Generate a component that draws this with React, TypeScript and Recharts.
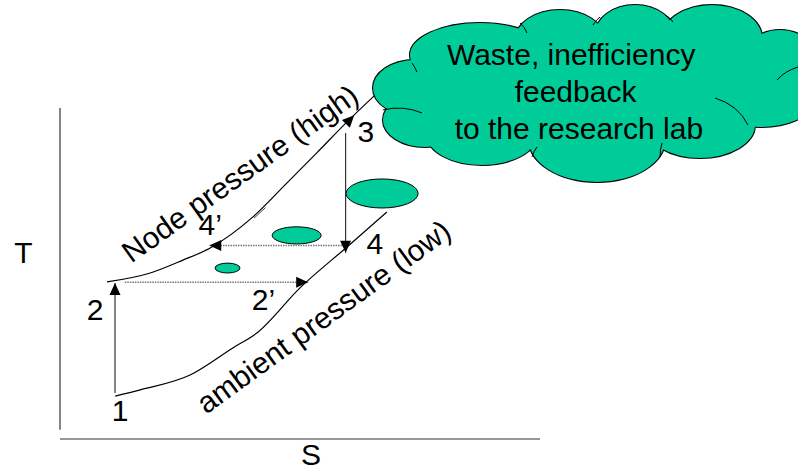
import React from 'react';
import { ComposedChart, Line, XAxis, YAxis, ReferenceLine, ReferenceDot, ReferenceArea } from 'recharts';

// ---------- data (entropy S, temperature T in arbitrary diagram units) ----------
const highS = [9.8, 18.8, 25.6, 31.3, 40.2, 47.3, 53.5, 59.8, 65.4];
const highT = [47.3, 50.0, 53.9, 57.6, 67.0, 77.3, 86.4, 95.8, 103.6];
const lowS = [11.5, 16.7, 27.1, 36.0, 41.0, 50.0, 59.8, 68.1];
const lowT = [12.7, 14.6, 19.1, 27.3, 31.8, 45.5, 57.9, 68.5];

const processS1 = [11.46, 59.5, 13.5, 58.75];
const processT1 = [13.6, 92.4, 47.2, 58.3];
const processS2 = [11.46, 59.5, 51.7, 31.1];
const processT2 = [47.0, 56.1, 47.2, 58.3];
const processDotted = [false, false, true, true];

const arrow3S = 61.3;
const arrow3T = 97.8;

// short doubled stroke next to the high-pressure curve
const ghostS = [40.4, 42.8];
const ghostT = [66.6, 69.8];

const wasteS1 = [32.3, 44.2, 59.6];
const wasteS2 = [37.5, 54.4, 74.6];
const wasteT1 = [50.0, 58.8, 69.7];
const wasteT2 = [53.0, 64.0, 78.5];

const cloudBox = { s1: 65.2, s2: 153.75, t1: 77.6, t2: 131.2 };

const labelText = ['T', 'S', '1', '2', '3', '4', '4\u2019', '2\u2019'];
const labelS = [-7.6, 52.3, 12.5, 7.3, 63.7, 65.6, 31.3, 42.4];
const labelT = [53.0, -8.2, 5.2, 35.8, 89.7, 55.8, 61.5, 38.8];

const curveLabelText = ['Node pressure (high)', 'ambient pressure (low)'];
const curveLabelS = [38.75, 56.2];
const curveLabelT = [77.6, 34.2];
const curveLabelAngle = [-35.5, -36];

const cloudLines = ['Waste, inefficiency', 'feedback', 'to the research lab'];
const cloudLineS = [106.5, 107.4, 108.1];
const cloudLineT = [113.0, 101.9, 90.5];

// ---------- layout ----------
const W = 798;
const H = 471;
const ORIGIN_X = 60;
const SX = 4.8;
const ORIGIN_Y = 438;
const TY = 3.3;
const S_DOMAIN: [number, number] = [-ORIGIN_X / SX, (W - ORIGIN_X) / SX];
const T_DOMAIN: [number, number] = [(ORIGIN_Y - H) / TY, ORIGIN_Y / TY];

const FONT = 'Liberation Sans, Arial, sans-serif';
const FS = 30;
const GREEN = '#00CC99';

const highData = highS.map((s, i) => ({ s, t: highT[i] }));
const lowData = lowS.map((s, i) => ({ s, t: lowT[i] }));

// cloud lobes in a 425 x 177 unit box
const CW = 425;
const CH = 177;
const lobes = [
  [42, 83, 42, 28],
  [107, 50, 70, 32],
  [187, 35, 45, 30],
  [262, 30, 40, 30],
  [339, 33, 50, 33],
  [407, 70, 45, 45],
  [387, 100, 50, 22],
  [327, 120, 55, 33],
  [224, 135, 68, 42],
  [109, 130, 55, 30],
  [52, 115, 42, 27],
];
const cloudCore = [217, 85, 180, 55];
const innerArcs = [
  [10, 105, 30, 100, 49, 108],
  [39, 58, 42, 62, 44, 67],
  [147, 18, 152, 22, 154, 28],
  [220, 20, 224, 14, 227, 12],
  [292, 10, 297, 12, 300, 17],
  [404, 75, 412, 66, 425, 62],
  [342, 93, 365, 100, 375, 120],
  [289, 138, 287, 145, 287, 152],
  [159, 152, 161, 146, 164, 142],
];

const CloudShape = (p: any) => {
  const { x, y, width, height } = p;
  const kx = width / CW;
  const ky = height / CH;
  const ell = (l: number[], i: number, stroke: boolean) => (
    <ellipse
      key={(stroke ? 's' : 'f') + i}
      cx={x + l[0] * kx}
      cy={y + l[1] * ky}
      rx={l[2] * kx}
      ry={l[3] * ky}
      fill={GREEN}
      stroke={stroke ? '#000' : 'none'}
      strokeWidth={stroke ? 2 : 0}
    />
  );
  return (
    <g>
      {lobes.map((l, i) => ell(l, i, true))}
      {lobes.map((l, i) => ell(l, i, false))}
      {ell(cloudCore, 99, false)}
      {innerArcs.map((a, i) => (
        <path
          key={'a' + i}
          d={`M${x + a[0] * kx},${y + a[1] * ky} Q${x + a[2] * kx},${y + a[3] * ky} ${x + a[4] * kx},${y + a[5] * ky}`}
          fill="none"
          stroke="#000"
          strokeWidth={1}
        />
      ))}
    </g>
  );
};

const EllipseShape = (p: any) => {
  const { x, y, width, height } = p;
  return (
    <ellipse
      cx={x + width / 2}
      cy={y + height / 2}
      rx={Math.abs(width) / 2}
      ry={Math.abs(height) / 2}
      fill={GREEN}
      stroke="#000"
      strokeWidth={1}
    />
  );
};

const arrowHead = (angle: number) => (p: any) => {
  const { cx, cy } = p;
  return (
    <polygon
      points={`${cx},${cy} ${cx - 12},${cy - 5.5} ${cx - 12},${cy + 5.5}`}
      transform={`rotate(${angle} ${cx} ${cy})`}
      fill="#000"
    />
  );
};

const textShape = (text: string, angle = 0, anchor = 'middle') => (p: any) => {
  const { cx, cy } = p;
  return (
    <text
      x={cx}
      y={cy}
      textAnchor={anchor}
      fontFamily={FONT}
      fontSize={FS}
      fill="#000"
      transform={angle ? `rotate(${angle} ${cx} ${cy})` : undefined}
    >
      {text}
    </text>
  );
};

const segAngle = (s1: number, t1: number, s2: number, t2: number) =>
  (Math.atan2(-(t2 - t1) * TY, (s2 - s1) * SX) * 180) / Math.PI;

export default function App() {
  const n = highS.length;
  const arrow3Angle = segAngle(highS[n - 3], highT[n - 3], highS[n - 2], highT[n - 2]);
  return (
    <div style={{ position: 'absolute', left: 0, top: 0, width: W, height: H, background: '#fff' }}>
      <ComposedChart width={W} height={H} margin={{ top: 0, right: 0, bottom: 0, left: 0 }}>
        <XAxis type="number" dataKey="s" domain={S_DOMAIN} allowDataOverflow hide />
        <YAxis type="number" dataKey="t" domain={T_DOMAIN} allowDataOverflow hide />

        {/* axes */}
        <ReferenceLine segment={[{ x: 0, y: 2.5 }, { x: 0, y: 100 }]} stroke="#333" strokeWidth={1.2} ifOverflow="visible" />
        <ReferenceLine segment={[{ x: 0, y: -0.3 }, { x: 100, y: -0.3 }]} stroke="#333" strokeWidth={1.2} ifOverflow="visible" />

        {/* isobars */}
        <Line data={highData} dataKey="t" type="monotone" stroke="#000" strokeWidth={1.2} dot={false} activeDot={false} isAnimationActive={false} />
        <Line data={lowData} dataKey="t" type="monotone" stroke="#000" strokeWidth={1.2} dot={false} activeDot={false} isAnimationActive={false} />
        <ReferenceLine
          segment={[{ x: ghostS[0], y: ghostT[0] }, { x: ghostS[1], y: ghostT[1] }]}
          stroke="#444"
          strokeWidth={1}
          ifOverflow="visible"
        />

        {/* processes */}
        {processS1.map((s1, i) => (
          <ReferenceLine
            key={'p' + i}
            segment={[{ x: s1, y: processT1[i] }, { x: processS2[i], y: processT2[i] }]}
            stroke={processDotted[i] ? '#777' : '#333'}
            strokeWidth={processDotted[i] ? 1.5 : 1.2}
            strokeDasharray={processDotted[i] ? '1.5 1' : undefined}
            ifOverflow="visible"
          />
        ))}
        {processS1.map((s1, i) => (
          <ReferenceDot
            key={'h' + i}
            x={processS2[i]}
            y={processT2[i]}
            r={1}
            ifOverflow="visible"
            shape={arrowHead(segAngle(s1, processT1[i], processS2[i], processT2[i]))}
          />
        ))}
        <ReferenceDot x={arrow3S} y={arrow3T} r={1} ifOverflow="visible" shape={arrowHead(arrow3Angle)} />

        {/* waste bubbles */}
        {wasteS1.map((s1, i) => (
          <ReferenceArea
            key={'w' + i}
            x1={s1}
            x2={wasteS2[i]}
            y1={wasteT1[i]}
            y2={wasteT2[i]}
            ifOverflow="visible"
            shape={EllipseShape}
          />
        ))}

        {/* cloud */}
        <ReferenceArea
          x1={cloudBox.s1}
          x2={cloudBox.s2}
          y1={cloudBox.t1}
          y2={cloudBox.t2}
          ifOverflow="visible"
          shape={CloudShape}
        />

        {/* labels */}
        {labelText.map((t, i) => (
          <ReferenceDot key={'l' + i} x={labelS[i]} y={labelT[i]} r={1} ifOverflow="visible" shape={textShape(t)} />
        ))}
        {curveLabelText.map((t, i) => (
          <ReferenceDot
            key={'c' + i}
            x={curveLabelS[i]}
            y={curveLabelT[i]}
            r={1}
            ifOverflow="visible"
            shape={textShape(t, curveLabelAngle[i])}
          />
        ))}
        {cloudLines.map((t, i) => (
          <ReferenceDot key={'cl' + i} x={cloudLineS[i]} y={cloudLineT[i]} r={1} ifOverflow="visible" shape={textShape(t)} />
        ))}
      </ComposedChart>
    </div>
  );
}
